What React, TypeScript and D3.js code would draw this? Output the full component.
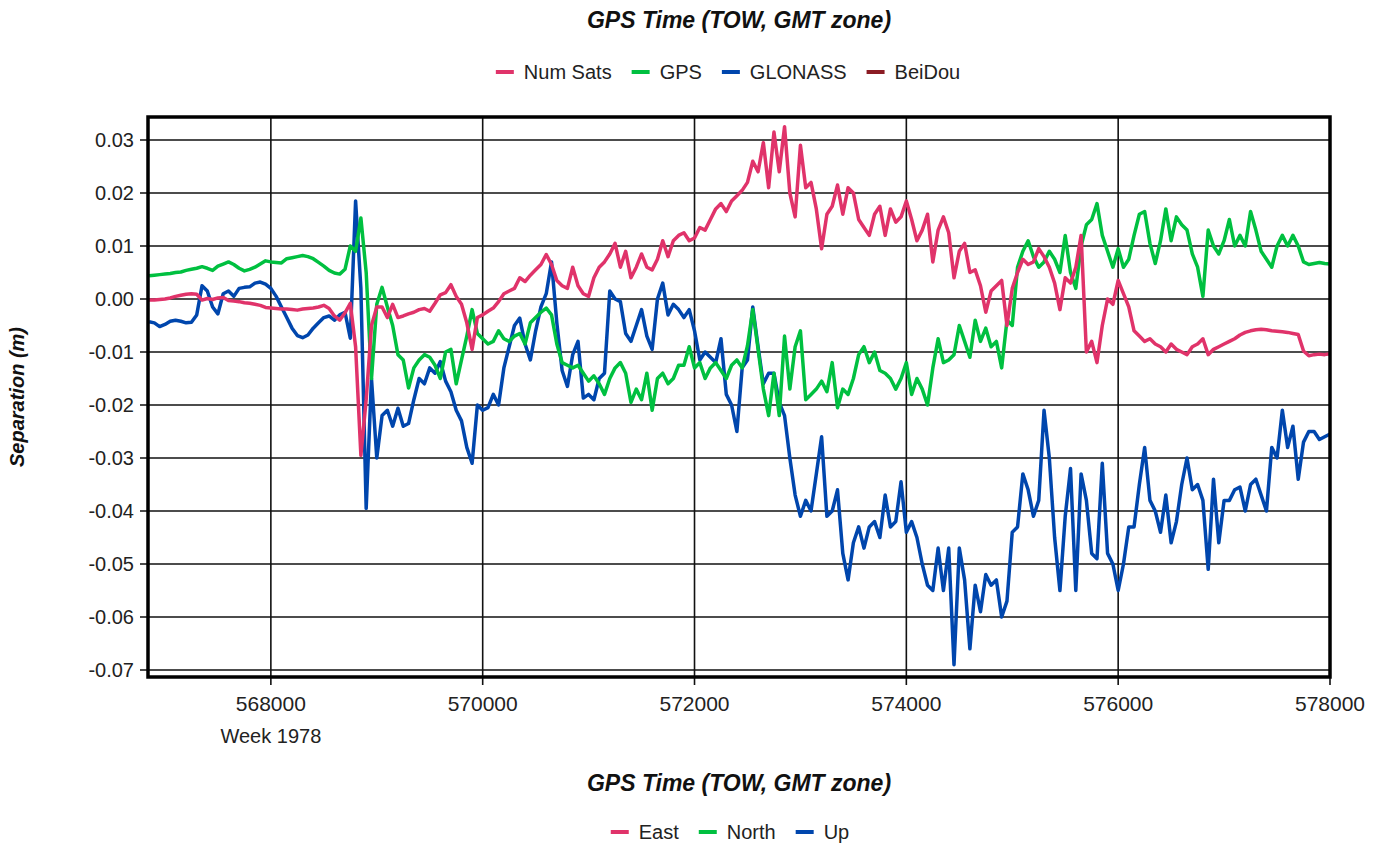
import * as d3 from "d3";

// GPS time of week, one sample every 50 s
const TOW_START = 566850;
const TOW_STEP = 50;

// separation in millimetres
const eastMm = [
  -0.2, -0.2, -0.1, 0, 0.2, 0.5, 0.7, 0.9, 1.0, 0.9,
  -0.2, 0.1, -0.1, 0.2, 0.3, -0.3, -0.4, -0.5, -0.7, -0.8,
  -1.0, -1.2, -1.6, -1.7, -1.8, -1.9, -1.9, -2.0, -2.1, -1.9,
  -1.8, -1.7, -1.5, -1.2, -1.8, -3.2, -4.0, -2.6, -0.8, -9,
  -29.5, -19, -5, -1.5, -1.5, -3.5, -1, -3.5, -3.2, -2.8,
  -2.5, -2.0, -1.8, -2.3, -0.8, 0.8, 1.2, 2.7, 0.5, -1.0,
  -4.5, -9.5, -3.5, -3.0, -2.3, -1.7, -0.5, 1.0, 1.5, 2.0,
  4.0, 3.3, 4.5, 5.5, 6.5, 8.4, 6.5, 3.5, 2.5, 2.0,
  6.0, 2.5, 1.0, 0.5, 4.0, 6.0, 7.0, 8.5, 10.5, 6.0,
  9.0, 4, 6, 8.5, 6, 5.5, 7.5, 11, 8, 11,
  12, 12.5, 11, 11.5, 13.5, 13, 15, 17, 18, 16.5,
  18.5, 19.5, 20.5, 22, 26, 24, 29.5, 21, 31.5, 24,
  32.5, 20, 15.5, 29, 21, 22, 17, 9.5, 16, 17.5,
  21.5, 16, 21, 20, 15, 13.5, 12, 16, 17.5, 12,
  17, 14.5, 15.5, 18.5, 15, 11, 13, 16, 7, 13,
  15.5, 12.5, 4, 9, 10.5, 5, 5.5, 2.5, -2.5, 1.5,
  2.5, 3.5, -5, 2, 5, 7.5, 6.5, 7, 9.5, 8,
  6, 3, -2, 4, 3, 6, 12, -10, -8, -12,
  -5, 0, -1, 3.5, 1, -1.5, -6, -7, -8, -7.5,
  -8.5, -9, -10, -8.5, -9.5, -10, -10.5, -9, -8.5, -7.5,
  -10.5, -9.5, -9, -8.5, -8, -7.5, -6.8, -6.3, -6, -5.8,
  -5.7, -5.8, -6, -6.1, -6.2, -6.3, -6.5, -6.7, -9.8, -10.7,
  -10.5, -10.4, -10.5, -10.3,
];

const northMm = [
  4.4, 4.5, 4.6, 4.7, 4.8, 5.0, 5.1, 5.4, 5.6, 5.8,
  6.1, 5.8, 5.4, 6.2, 6.6, 7.0, 6.5, 5.8, 5.3, 5.6,
  6.0, 6.6, 7.2, 7.0, 6.9, 6.8, 7.6, 7.8, 8.0, 8.2,
  8.0, 7.6, 6.9, 6.2, 5.4, 4.9, 4.7, 5.6, 10.0, 9,
  15.3, 5, -15, -1, 2.2, -1.5, -5, -10.5, -11.5, -16.8,
  -13, -11.5, -10.5, -11, -12.5, -15, -10, -9.5, -16, -11.5,
  -7, -2, -6.5, -7.5, -8.5, -8, -6, -7.5, -8, -7,
  -6.5, -8.5, -4.5, -3.5, -2.5, -1.7, -3, -8.5, -12, -12.5,
  -13, -12.5, -14, -15.5, -14.5, -16, -18, -15, -13, -12,
  -14, -19.5, -17, -19, -14, -21, -15, -14, -16, -15,
  -12.5, -12.5, -9, -13, -12, -15, -13, -12, -13.5, -15,
  -12.5, -11.5, -13, -8.8, -2, -9.5, -17, -22, -14, -22,
  -7, -17, -9, -6, -19, -18, -17, -15.5, -17.5, -12,
  -20.5, -17, -18, -15, -10.5, -9, -12, -10, -13.5, -14,
  -15, -17, -15, -12, -18, -15, -17, -20, -13, -7.5,
  -12, -11.5, -10.5, -5, -8, -11, -4, -8, -5.5, -9,
  -8, -13, -4, -5, 6, 9, 11, 8, 6, 7,
  9, 7.5, 5, 12, 5, 2, 10, 14, 15, 18,
  12, 9, 6, 9.5, 6, 7.5, 12, 16, 16.5, 10.5,
  6.7, 11, 17, 11, 15.5, 14, 13, 8.5, 6, 0.5,
  13, 10, 8.5, 11, 15, 10, 12, 10, 16.5, 13,
  9, 7.5, 6, 10, 12, 10, 12, 10, 7, 6.5,
  6.7, 6.9, 6.7, 6.6,
];

const upMm = [
  -4.3, -4.5, -5.2, -4.8, -4.2, -4.0, -4.2, -4.5, -4.4, -3.0,
  2.5, 1.5, -1.5, -2.8, 1.0, 1.5, 0.5, 2.0, 2.2, 2.3,
  3.0, 3.2, 2.8, 2.0, 0.5, -1.5, -3.5, -5.5, -6.9, -7.3,
  -6.8, -5.5, -4.5, -3.5, -3.2, -4.0, -3.0, -2.5, -7.4, 18.5,
  2, -39.5, -15, -30, -22, -21, -24, -20.6, -24, -23.5,
  -19, -15, -16, -13, -14, -11.8, -15.5, -17.5, -21, -23,
  -28, -31, -20, -21, -20.5, -18, -20, -13, -9, -5,
  -3.6, -8.5, -11.5, -6, -1.5, 1, 7, -4.5, -13.5, -16.5,
  -10.5, -8, -18.7, -18, -19, -15, -14, 1.5, 0, -0.5,
  -6.5, -8, -5, -2, -7, -9.5, 0, 3, -3, -1,
  -2, -3.5, -2, -6, -11.5, -10, -11, -12, -7.5, -18,
  -20, -25, -13, -11.5, -1.5, -9, -16, -14, -14, -19.5,
  -22, -30, -37, -41, -38, -40, -33, -26, -41, -40,
  -36, -48, -53, -46, -43, -47, -43, -42, -45, -37,
  -43, -42, -34.5, -44, -42, -45, -50, -54, -55, -47,
  -55, -47, -69, -47, -53, -66, -54, -59, -52, -54,
  -53, -60, -57, -44, -43, -33, -36, -41, -38, -21,
  -30, -45, -55, -41, -32, -55, -33, -38, -48, -49,
  -31, -48, -50, -55, -50, -43, -43, -35, -28, -38,
  -40, -44, -37, -46, -42, -35, -30, -36, -35, -38,
  -51, -34, -46, -38, -38, -36, -35.5, -40, -35, -34,
  -37, -40, -28, -30, -21, -28, -24, -34, -27, -25,
  -25, -26.5, -26, -25.5,
];

const tow = d3.range(TOW_START, TOW_START + TOW_STEP * eastMm.length, TOW_STEP);

const xTicks = [568000, 570000, 572000, 574000, 576000, 578000];
const yTicks = [0.03, 0.02, 0.01, 0.0, -0.01, -0.02, -0.03, -0.04, -0.05, -0.06, -0.07];

const topLegend = [
  { label: "Num Sats", color: "#e0336a" },
  { label: "GPS", color: "#00c040" },
  { label: "GLONASS", color: "#0046ad" },
  { label: "BeiDou", color: "#8b1c24" },
];
const bottomLegend = [
  { label: "East", color: "#e0336a" },
  { label: "North", color: "#00c040" },
  { label: "Up", color: "#0046ad" },
];

const W = 1382;
const H = 846;
const margin = { left: 148, right: 52, top: 117, bottom: 169 };
const FONT = "'Liberation Sans', Arial, sans-serif";

// ширина текста через canvas
const measure = (txt: string, font: string) => {
  const ctx = document.createElement("canvas").getContext("2d");
  if (!ctx) return txt.length * 10;
  ctx.font = font;
  return ctx.measureText(txt).width;
};

const Legend = ({ items, cx, y }: { items: { label: string; color: string }[]; cx: number; y: number }) => {
  const sw = 18, gap = 10, spacing = 20;
  const widths = items.map((d) => measure(d.label, `20px 'Liberation Sans'`));
  const total = d3.sum(widths) + items.length * (sw + gap) + (items.length - 1) * spacing;
  let x = cx - total / 2;
  const pos = items.map((_, i) => {
    const p = x;
    x += sw + gap + widths[i] + spacing;
    return p;
  });
  return (
    <g>
      {items.map((d, i) => (
        <g key={d.label} transform={`translate(${pos[i]},${y})`}>
          <line x1={0} x2={sw} y1={0} y2={0} stroke={d.color} strokeWidth={4} />
          <text x={sw + gap} y={0} dy="0.35em" fontSize={20} fill="#222" fontFamily={FONT}>
            {d.label}
          </text>
        </g>
      ))}
    </g>
  );
};

export default function App() {
  const x0 = margin.left;
  const x1 = W - margin.right;
  const y0 = margin.top;
  const y1 = H - margin.bottom;

  const x = d3.scaleLinear().domain([566840, 578000]).range([x0, x1]);
  const y = d3.scaleLinear().domain([-0.07132, 0.03434]).range([y1, y0]);

  const line = (vals: number[]) =>
    d3
      .line<number>()
      .x((_, i) => x(tow[i]))
      .y((v) => y(v / 1000))(vals) || "";

  const series = [
    { vals: upMm, color: bottomLegend[2].color },
    { vals: northMm, color: bottomLegend[1].color },
    { vals: eastMm, color: bottomLegend[0].color },
  ];

  const cx = (x0 + x1) / 2;

  return (
    <div style={{ position: "absolute", left: 0, top: 0 }}>
      <svg width={W} height={H} style={{ display: "block", background: "#fff" }}>
        <defs>
          <clipPath id="plot">
            <rect x={x0} y={y0} width={x1 - x0} height={y1 - y0} />
          </clipPath>
        </defs>

        {/* сетка */}
        {yTicks.map((t) => (
          <g key={"y" + t}>
            <line x1={x0 - 8} x2={x1} y1={y(t)} y2={y(t)} stroke="#111" strokeWidth={1.6} />
            <text x={x0 - 14} y={y(t)} dy="0.35em" textAnchor="end" fontSize={20} fill="#222" fontFamily={FONT}>
              {d3.format(".2f")(t).replace("−", "-")}
            </text>
          </g>
        ))}
        {xTicks.map((t) => (
          <g key={"x" + t}>
            <line x1={x(t)} x2={x(t)} y1={y0} y2={y1 + 8} stroke="#111" strokeWidth={1.6} />
            <text x={x(t)} y={y1 + 34} textAnchor="middle" fontSize={21} fill="#222" fontFamily={FONT}>
              {t}
            </text>
          </g>
        ))}
        <text x={x(xTicks[0])} y={y1 + 66} textAnchor="middle" fontSize={20} fill="#222" fontFamily={FONT}>
          Week 1978
        </text>

        {/* линии */}
        <g clipPath="url(#plot)">
          {series.map((s) => (
            <path key={s.color} d={line(s.vals)} fill="none" stroke={s.color} strokeWidth={3.5} strokeLinejoin="round" />
          ))}
        </g>

        {/* рамка */}
        <rect x={x0} y={y0} width={x1 - x0} height={y1 - y0} fill="none" stroke="#000" strokeWidth={3.5} />

        {/* заголовки */}
        <text x={cx} y={28} textAnchor="middle" fontSize={23} fontWeight="bold" fontStyle="italic" fill="#111" fontFamily={FONT}>
          GPS Time (TOW, GMT zone)
        </text>
        <text x={cx} y={791} textAnchor="middle" fontSize={23} fontWeight="bold" fontStyle="italic" fill="#111" fontFamily={FONT}>
          GPS Time (TOW, GMT zone)
        </text>
        <text
          transform={`translate(24,${(y0 + y1) / 2}) rotate(-90)`}
          textAnchor="middle"
          fontSize={20}
          fontWeight="bold"
          fontStyle="italic"
          fill="#111"
          fontFamily={FONT}
        >
          Separation (m)
        </text>

        <Legend items={topLegend} cx={728} y={72} />
        <Legend items={bottomLegend} cx={730} y={832} />
      </svg>
    </div>
  );
}
